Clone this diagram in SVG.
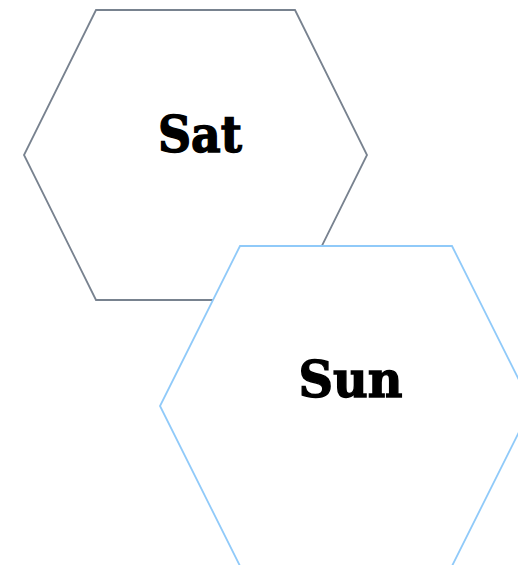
<svg xmlns="http://www.w3.org/2000/svg" width="518" height="565" viewBox="0 0 518 565">
<style>
.hex{fill:#ffffff;stroke-width:1.8;stroke-linejoin:miter}
.lbl{font-family:"DejaVu Serif","Liberation Serif",serif;font-weight:bold;font-size:50px;fill:#000;stroke:#000;stroke-width:1.4;text-anchor:middle}
</style>
<rect width="518" height="565" fill="#ffffff"/>
<g id="sat">
<polygon class="hex" stroke="#78828f" points="96,10 295,10 367,155 295,300 96,300 24,155"/>
<text class="lbl" x="200" y="152" textLength="84" lengthAdjust="spacingAndGlyphs">Sat</text>
</g>
<g id="sun">
<polygon class="hex" stroke="#90caf9" points="240,246 452,246 532,406 452,566 240,566 160,406"/>
<text class="lbl" x="350.5" y="397" textLength="104" lengthAdjust="spacingAndGlyphs">Sun</text>
</g>
<g id="connectors"></g>
</svg>
